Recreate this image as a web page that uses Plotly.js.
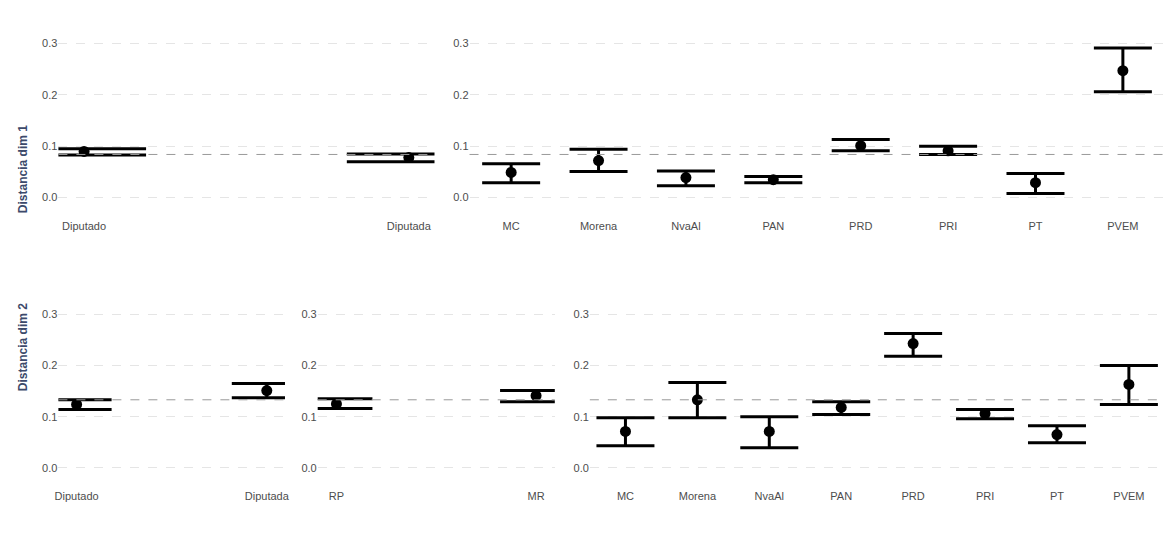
<!DOCTYPE html>
<html>
<head>
<meta charset="utf-8">
<script src="https://cdn.plot.ly/plotly-3.0.1.min.js"></script>
<style>body{margin:0;background:#fff}</style>
</head>
<body>
<div id="graph" style="width:1168px;height:540px"></div>
<script>
const sexo = ["Diputado", "Diputada"];
const partidos = ["MC", "Morena", "NvaAl", "PAN", "PRD", "PRI", "PT", "PVEM"];
const principio = ["RP", "MR"];

// dim 1
const d1SexoEst = [0.090, 0.078];
const d1SexoHi = [0.095, 0.085];
const d1SexoLo = [0.083, 0.070];
const d1PartEst = [0.049, 0.072, 0.039, 0.035, 0.101, 0.091, 0.029, 0.247];
const d1PartHi = [0.066, 0.094, 0.052, 0.041, 0.113, 0.100, 0.047, 0.291];
const d1PartLo = [0.029, 0.051, 0.023, 0.029, 0.091, 0.084, 0.008, 0.206];
const d1Ref = 0.084;

// dim 2
const d2SexoEst = [0.124, 0.151];
const d2SexoHi = [0.133, 0.165];
const d2SexoLo = [0.114, 0.137];
const d2PrinEst = [0.125, 0.141];
const d2PrinHi = [0.135, 0.151];
const d2PrinLo = [0.116, 0.129];
const d2PartEst = [0.071, 0.133, 0.071, 0.118, 0.243, 0.106, 0.065, 0.163];
const d2PartHi = [0.098, 0.167, 0.100, 0.129, 0.263, 0.114, 0.082, 0.200];
const d2PartLo = [0.043, 0.098, 0.039, 0.104, 0.218, 0.096, 0.049, 0.124];
const d2Ref = 0.133;

function trace(cats, est, hi, lo, ax, capw) {
  return {
    x: cats, y: est, xaxis: "x" + ax, yaxis: "y" + ax,
    type: "scatter", mode: "markers",
    marker: { color: "#000", size: 11 },
    error_y: {
      type: "data", symmetric: false,
      array: hi.map((h, i) => h - est[i]),
      arrayminus: lo.map((l, i) => est[i] - l),
      color: "#000", thickness: 3, width: capw
    },
    showlegend: false, hoverinfo: "x+y"
  };
}

const data = [
  trace(sexo, d1SexoEst, d1SexoHi, d1SexoLo, "", 62),
  trace(partidos, d1PartEst, d1PartHi, d1PartLo, "2", 29),
  trace(sexo, d2SexoEst, d2SexoHi, d2SexoLo, "3", 35),
  trace(principio, d2PrinEst, d2PrinHi, d2PrinLo, "4", 36),
  trace(partidos, d2PartEst, d2PartHi, d2PartLo, "5", 29)
];

const tickFont = { family: "Liberation Sans, Arial", size: 11, color: "#4d4d4d" };
function xa(dom, anchor) {
  return { domain: dom, anchor: anchor, showgrid: false, zeroline: false, showline: false,
    ticks: "", tickfont: tickFont, fixedrange: true };
}
function ya(dom, anchor) {
  return { domain: dom, anchor: anchor, range: [-0.04, 0.33], tickvals: [0, 0.1, 0.2, 0.3],
    ticktext: ["0.0", "0.1", "0.2", "0.3"], showgrid: true, gridcolor: "#e5e5e5", griddash: "dash",
    gridwidth: 1, zeroline: false, showline: false, ticks: "", tickfont: tickFont };
}
function ref(v, ax) {
  return { type: "line", xref: "x" + ax + " domain", yref: "y" + ax, x0: 0, x1: 1, y0: v, y1: v,
    line: { color: "#999", width: 1, dash: "dash" } };
}

const topRow = [0.596, 0.948], botRow = [0.096, 0.446];
const layout = {
  width: 1168, height: 540,
  margin: { l: 0, r: 0, t: 0, b: 0 },
  paper_bgcolor: "#fff", plot_bgcolor: "#fff",
  xaxis: xa([0.05, 0.372], "y"), yaxis: ya(topRow, "x"),
  xaxis2: xa([0.402, 0.997], "y2"), yaxis2: ya(topRow, "x2"),
  xaxis3: xa([0.05, 0.244], "y3"), yaxis3: ya(botRow, "x3"),
  xaxis4: xa([0.272, 0.475], "y4"), yaxis4: ya(botRow, "x4"),
  xaxis5: xa([0.505, 0.997], "y5"), yaxis5: ya(botRow, "x5"),
  shapes: [ref(d1Ref, ""), ref(d1Ref, "2"), ref(d2Ref, "3"), ref(d2Ref, "4"), ref(d2Ref, "5")],
  annotations: [
    { text: "<b>Distancia dim 1</b>", xref: "paper", yref: "paper", x: 0.012, y: 0.772,
      textangle: -90, showarrow: false, font: { family: "Liberation Sans, Arial", size: 12, color: "#3c4a6b" } },
    { text: "<b>Distancia dim 2</b>", xref: "paper", yref: "paper", x: 0.012, y: 0.272,
      textangle: -90, showarrow: false, font: { family: "Liberation Sans, Arial", size: 12, color: "#3c4a6b" } }
  ]
};

Plotly.newPlot("graph", data, layout, { displayModeBar: false });
</script>
</body>
</html>
